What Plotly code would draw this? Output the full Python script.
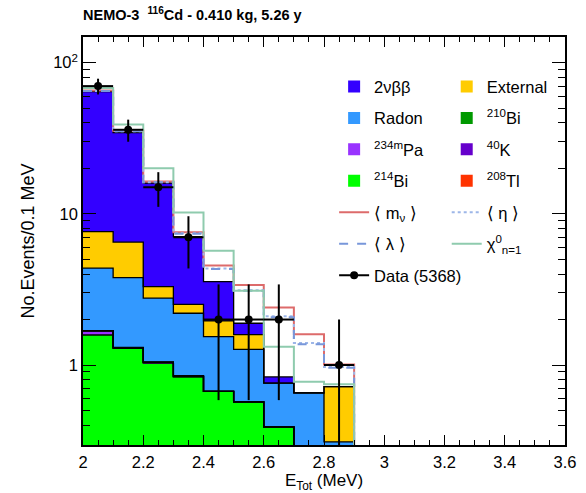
import numpy as np
import plotly.graph_objects as go

# ---------------- data ----------------
bin_edges = [2.0, 2.1, 2.2, 2.3, 2.4, 2.5, 2.6, 2.7, 2.8, 2.9, 3.0]

# background components (events per 0.1 MeV bin), stacked bottom -> top
bi214 = [1.58, 1.29, 1.03, 0.84, 0.67, 0.57, 0.39, 0.0, 0.0, 0.0]
pa234m = [0.10, 0.01, 0.01, 0.0, 0.0, 0.0, 0.0, 0.0, 0.0, 0.0]
k40 = [0.0, 0.0, 0.0, 0.0, 0.0, 0.0, 0.0, 0.0, 0.0, 0.0]
bi210 = [0.0, 0.0, 0.0, 0.0, 0.0, 0.0, 0.0, 0.0, 0.0, 0.0]
tl208 = [0.01, 0.01, 0.01, 0.01, 0.0, 0.0, 0.0, 0.0, 0.0, 0.0]
radon = [2.68, 2.48, 1.72, 1.35, 0.87, 0.70, 0.37, 0.655, 0.31, 0.0]
external = [3.27, 2.71, 0.53, 0.32, 0.42, 0.32, 0.0, 0.0, 0.41, 0.0]
bb2nu = [56.7, 28.0, 12.7, 4.56, 1.60, 0.30, 0.074, 0.0, 0.0, 0.0]

# background + excluded signal (totals per bin)
mnu_total = [65.5, 35.5, 16.4, 7.57, 4.55, 3.39, 2.40, 1.60, 1.01, 0.15]
eta_total = [65.0, 35.2, 16.2, 7.45, 4.35, 3.12, 2.10, 1.40, 0.97, 0.15]
lambda_total = [65.0, 35.2, 16.2, 7.40, 4.32, 3.10, 2.07, 1.37, 0.96, 0.15]
chi_total = [68.0, 39.0, 20.0, 10.2, 5.71, 3.10, 1.32, 0.775, 0.745, 0.10]

# data
data_counts = [70, 36, 15, 7, 2, 2, 2, 0, 1, 0]

x_tick_vals = [2.0, 2.2, 2.4, 2.6, 2.8, 3.0, 3.2, 3.4, 3.6]
x_tick_text = ["2", "2.2", "2.4", "2.6", "2.8", "3", "3.2", "3.4", "3.6"]
y_tick_vals = [1, 10, 100]
y_tick_text = ["1", "10", "10<sup>2</sup>"]

# ---------------- build ----------------
FONT = "Liberation Sans, Arial, Helvetica, sans-serif"
edges = np.array(bin_edges)
centers = (edges[:-1] + edges[1:]) / 2
widths = np.diff(edges)
FLOOR = 1e-3
W, H = 586, 493


def step(vals):
    v = np.asarray(vals, float)
    v = np.where(v > 0, v, FLOOR)
    return np.append(v, v[-1])


components = [
    ("<sup>214</sup>Bi", bi214, "#00FF00", "legend", 4),
    ("<sup>234m</sup>Pa", pa234m, "#9933FF", "legend", 3),
    ("<sup>40</sup>K", k40, "#6600CC", "legend2", 3),
    ("<sup>210</sup>Bi", bi210, "#009900", "legend2", 2),
    ("<sup>208</sup>Tl", tl208, "#FF3300", "legend2", 4),
    ("Radon", radon, "#3399FF", "legend", 2),
    ("External", external, "#FFCC00", "legend2", 1),
    ("2νββ", bb2nu, "#3300FF", "legend", 1),
]

fig = go.Figure()
cum = np.zeros(len(centers))
cums = []
for name, vals, col, leg, rank in components:
    fig.add_trace(go.Bar(
        x=centers, y=vals, width=widths, name=name,
        marker=dict(color=col, line=dict(width=0)),
        legend=leg, legendrank=rank, legendgroup=name, hoverinfo="skip",
    ))
    cum = cum + np.asarray(vals, float)
    cums.append(cum.copy())

# black outlines of the stacked histograms
for c in cums:
    fig.add_trace(go.Scatter(
        x=edges, y=step(c), mode="lines", line=dict(color="black", width=1.3, shape="hv"),
        showlegend=False, hoverinfo="skip",
    ))

signals = [
    ("⟨ m<sub>ν</sub> ⟩", mnu_total, "#DD6B6B", "solid", "legend", 5),
    ("⟨ η ⟩", eta_total, "#9DB6E8", "dot", "legend2", 5),
    ("⟨ λ ⟩", lambda_total, "#7897DA", "dash", "legend", 6),
    ("χ<sup>0</sup><sub>n=1</sub>", chi_total, "#8FCBAE", "solid", "legend2", 6),
]
for name, vals, col, dash, leg, rank in signals:
    fig.add_trace(go.Scatter(
        x=edges, y=step(vals), mode="lines", name=name,
        line=dict(color=col, width=2, shape="hv", dash=dash),
        legend=leg, legendrank=rank, legendgroup=name, hoverinfo="skip",
    ))

# data points with Poisson errors
xs, ys, eys = [], [], []
for c, n in zip(centers, data_counts):
    if n > 0:
        xs += [c, None]
        ys += [n, None]
        eys += [np.sqrt(n), 0]
fig.add_trace(go.Scatter(
    x=xs, y=ys, mode="lines+markers", name="Data (5368)", connectgaps=False,
    line=dict(color="black", width=2),
    marker=dict(color="black", size=8),
    error_y=dict(type="data", array=eys, visible=True, width=0, thickness=2, color="black"),
    error_x=dict(type="constant", value=0.05, visible=True, width=0, thickness=2, color="black"),
    legend="legend", legendrank=7, legendgroup="data", hoverinfo="skip",
))

axis_common = dict(
    showgrid=False, zeroline=False, showline=True, linecolor="black", linewidth=1.5,
    mirror="ticks", ticks="inside", tickcolor="black", tickwidth=1, automargin=False,
    tickfont=dict(family=FONT, size=16.5, color="black"),
)

fig.update_layout(
    width=W, height=H,
    margin=dict(l=83, r=21, t=37, b=48, autoexpand=False),
    paper_bgcolor="white", plot_bgcolor="white",
    barmode="stack", bargap=0,
    font=dict(family=FONT, color="black"),
    title=dict(
        text="<b>NEMO-3  <sup>116</sup>Cd - 0.410 kg, 5.26 y</b>",
        x=83 / W, xanchor="left", y=1 - 15.4 / H, yanchor="middle",
        font=dict(family=FONT, size=14.5, color="black"), automargin=False,
    ),
    xaxis=dict(
        range=[2.0, 3.6], tickvals=x_tick_vals, ticktext=x_tick_text, ticklen=10,
        ticklabelstandoff=1,
        minor=dict(ticks="inside", dtick=0.05, tick0=2.0, ticklen=5, tickcolor="black", tickwidth=1),
        title=dict(text="E<sub>Tot</sub> (MeV)", font=dict(family=FONT, size=17), standoff=21),
        **axis_common,
    ),
    yaxis=dict(
        type="log", range=[-0.529, 2.170], tickvals=y_tick_vals, ticktext=y_tick_text, ticklen=13,
        minor=dict(ticks="inside", ticklen=7, tickcolor="black", tickwidth=1,
                   tickvals=[0.3, 0.4, 0.5, 0.6, 0.7, 0.8, 0.9, 2, 3, 4, 5, 6, 7, 8, 9,
                             20, 30, 40, 50, 60, 70, 80, 90]),
        title=dict(text="No.Events/0.1 MeV", font=dict(family=FONT, size=18), standoff=14),
        **axis_common,
    ),
    legend=dict(
        x=0.521, xanchor="left", y=0.921, yanchor="top",
        bgcolor="rgba(0,0,0,0)", tracegroupgap=7,
        font=dict(family=FONT, size=16.5, color="black"),
    ),
    legend2=dict(
        x=0.7546, xanchor="left", y=0.921, yanchor="top",
        bgcolor="rgba(0,0,0,0)", tracegroupgap=7,
        font=dict(family=FONT, size=16.5, color="black"),
    ),
)

# remove the browser's default 8px page margin so the figure fills the window
fig.write_html("out.html", config={"displayModeBar": False},
               post_script="document.body.style.margin='0px';")
